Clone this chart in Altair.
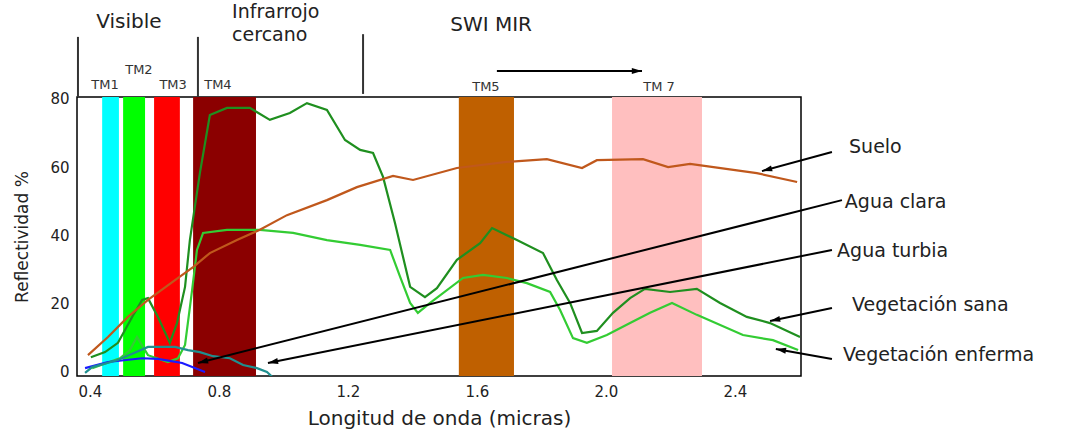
import math
import altair as alt
import pandas as pd

# ---------------- data ----------------
band_names = ["TM1", "TM2", "TM3", "TM4", "TM5", "TM7"]
band_start = [0.438, 0.503, 0.599, 0.720, 1.544, 2.019]
band_end = [0.490, 0.571, 0.679, 0.915, 1.715, 2.298]
band_colors = ["#00FFFF", "#00FF00", "#FF0000", "#8B0000", "#BF6000", "#FFBFBF"]

tm_text = ["TM1", "TM2", "TM3", "TM4", "TM5", "TM 7"]
tm_x = [0.447, 0.552, 0.658, 0.797, 1.628, 2.165]
tm_y = [84.0, 88.4, 84.0, 84.0, 83.4, 83.4]

sana_x = [0.403, 0.447, 0.487, 0.531, 0.562, 0.580, 0.611, 0.648, 0.670, 0.695, 0.710, 0.741, 0.772,
          0.825, 0.896, 0.958, 1.020, 1.073, 1.135, 1.191, 1.238, 1.278, 1.309, 1.346, 1.393, 1.439,
          1.476, 1.538, 1.610, 1.647, 1.724, 1.805, 1.848, 1.889, 1.926, 1.972, 2.022, 2.075, 2.121,
          2.199, 2.282, 2.354, 2.437, 2.509, 2.602]
sana_y = [4.3, 5.8, 8.5, 16.1, 21.1, 21.6, 16.1, 8.5, 14.3, 24.9, 38.6, 58.2, 75.2,
          77.3, 77.3, 73.8, 75.8, 78.7, 76.7, 67.9, 65.0, 64.1, 57.1, 43.6, 24.9, 21.9,
          24.5, 32.8, 37.7, 42.1, 38.6, 34.8, 26.9, 20.2, 11.4, 12.0, 17.3, 21.6, 24.3,
          23.4, 24.3, 20.2, 16.1, 14.3, 10.2]

enferma_x = [0.407, 0.493, 0.524, 0.546, 0.580, 0.642, 0.673, 0.695, 0.717, 0.732, 0.751, 0.825,
             0.927, 1.030, 1.135, 1.238, 1.331, 1.362, 1.393, 1.417, 1.455, 1.557, 1.619, 1.693,
             1.755, 1.827, 1.858, 1.898, 1.941, 2.003, 2.075, 2.137, 2.205, 2.282, 2.425, 2.518, 2.596]
enferma_y = [1.1, 4.0, 6.4, 10.2, 4.9, 2.9, 4.0, 7.9, 24.0, 35.7, 40.7, 41.6,
             41.6, 40.7, 38.6, 37.2, 35.7, 27.8, 20.2, 17.3, 20.2, 27.5, 28.4, 27.5,
             26.0, 23.4, 18.1, 9.9, 8.5, 10.8, 14.3, 17.3, 20.2, 16.7, 10.8, 9.3, 6.4]

suelo_x = [0.394, 0.456, 0.518, 0.580, 0.664, 0.720, 0.772, 0.856, 0.927, 1.011, 1.135, 1.228,
           1.340, 1.402, 1.538, 1.693, 1.817, 1.926, 1.972, 2.115, 2.193, 2.261, 2.468, 2.593]
suelo_y = [4.9, 10.2, 16.1, 21.1, 26.9, 30.7, 34.8, 38.6, 41.6, 45.9, 50.3, 54.1,
           57.4, 56.2, 59.7, 61.5, 62.3, 59.7, 62.0, 62.3, 60.0, 60.9, 58.2, 55.6]

clara_x = [0.385, 0.456, 0.562, 0.611, 0.686, 0.757]
clara_y = [1.1, 2.9, 4.0, 3.8, 2.6, 0.0]

turbia_x = [0.385, 0.407, 0.487, 0.580, 0.664, 0.704, 0.741, 0.782, 0.834, 0.875, 0.918, 0.949, 0.965]
turbia_y = [-0.3, 1.4, 3.5, 7.3, 7.3, 6.4, 5.8, 4.6, 4.0, 2.0, 1.1, 0.0, -1.4]

series_names = ["Vegetación sana", "Vegetación enferma", "Suelo", "Agua clara", "Agua turbia"]
series_colors = ["#1F8F1F", "#33CC33", "#C0581C", "#1A1AFF", "#1F8F8F"]

# annotation labels on the right
label_text = ["Suelo", "Agua clara", "Agua turbia", "Vegetación sana", "Vegetación enferma"]
label_x = [2.754, 2.741, 2.717, 2.763, 2.735]
label_y = [65.9, 49.8, 35.4, 19.6, 5.0]

# pointer arrows (start near label, end at curve)
arrow_x0 = [2.701, 2.732, 2.701, 2.701, 2.701, 1.662]
arrow_y0 = [64.4, 50.3, 35.7, 18.7, 3.8, 88.1]
arrow_x1 = [2.484, 0.735, 0.952, 2.509, 2.527, 2.112]
arrow_y1 = [58.8, 2.6, 2.6, 14.9, 6.7, 88.1]

# region headers
region_text = ["Visible", "Infrarrojo", "cercano", "SWI MIR"]
region_x = [0.521, 0.841, 0.841, 1.644]
region_y = [102.5, 105.5, 98.6, 101.6]
region_align = ["center", "left", "left", "center"]

divider_x = [0.363, 0.735, 1.247]
divider_y0 = [98.1, 98.1, 98.9]
divider_y1 = [80.5, 80.5, 81.4]

x_ticks = [0.4, 0.8, 1.2, 1.6, 2.0, 2.4]
y_ticks = [0, 20, 40, 60, 80]

# ---------------- geometry ----------------
W, H = 724, 279
XD = [0.36, 2.605]
YD = [-1.2, 80.5]
px_per_x = W / (XD[1] - XD[0])
px_per_y = H / (YD[1] - YD[0])

xs = alt.Scale(domain=XD, nice=False, zero=False)
ys = alt.Scale(domain=YD, nice=False, zero=False)

bands = pd.DataFrame({"name": band_names, "x0": band_start, "x1": band_end})
rows = []
for name, X, Y in [("Vegetación sana", sana_x, sana_y), ("Vegetación enferma", enferma_x, enferma_y),
                   ("Suelo", suelo_x, suelo_y), ("Agua clara", clara_x, clara_y),
                   ("Agua turbia", turbia_x, turbia_y)]:
    for i, (a, b) in enumerate(zip(X, Y)):
        rows.append({"serie": name, "x": a, "y": b, "i": i})
curves = pd.DataFrame(rows)

arrows = pd.DataFrame({"x0": arrow_x0, "y0": arrow_y0, "x1": arrow_x1, "y1": arrow_y1})
# direction (clockwise from "up") of each arrow in screen space, for the arrowhead symbol
arrows["angle"] = [
    (math.degrees(math.atan2((b - a) * px_per_x, (d - c) * px_per_y)) + 360) % 360
    for a, b, c, d in zip(arrow_x0, arrow_x1, arrow_y0, arrow_y1)
]

xaxis = alt.Axis(values=x_ticks, format=".1f", ticks=False, domain=False, grid=False,
                 labelFontSize=15, labelPadding=8, labelColor="#222",
                 title="Longitud de onda (micras)", titleFontSize=20, titleFontWeight="normal",
                 titlePadding=9, titleColor="#222")
yaxis = alt.Axis(values=y_ticks, ticks=False, domain=False, grid=False,
                 labelFontSize=15, labelPadding=8, labelColor="#222",
                 title="Reflectividad %", titleFontSize=17, titleFontWeight="normal",
                 titlePadding=18, titleColor="#222")

band_layer = alt.Chart(bands).mark_rect(opacity=1).encode(
    x=alt.X("x0:Q", scale=xs, axis=xaxis),
    x2="x1:Q",
    color=alt.Color("name:N", scale=alt.Scale(domain=band_names, range=band_colors), legend=None),
)

curve_layer = alt.Chart(curves).mark_line(strokeWidth=2.2, clip=True).encode(
    x=alt.X("x:Q", scale=xs),
    y=alt.Y("y:Q", scale=ys, axis=yaxis),
    color=alt.Color("serie:N", scale=alt.Scale(domain=series_names, range=series_colors), legend=None),
    detail="serie:N",
    order="i:Q",
)

arrow_lines = alt.Chart(arrows).mark_rule(color="black", strokeWidth=2).encode(
    x=alt.X("x0:Q", scale=xs), y=alt.Y("y0:Q", scale=ys), x2="x1:Q", y2="y1:Q"
)
arrow_heads = alt.Chart(arrows).mark_point(
    shape="M0,0L0.5,1.7L-0.5,1.7Z", filled=True, color="black", size=144, opacity=1
).encode(
    x=alt.X("x1:Q", scale=xs), y=alt.Y("y1:Q", scale=ys), angle=alt.Angle("angle:Q", scale=None)
)

dividers = alt.Chart(pd.DataFrame({"x": divider_x, "y0": divider_y0, "y1": divider_y1})).mark_rule(
    color="#333", strokeWidth=2
).encode(x=alt.X("x:Q", scale=xs), y=alt.Y("y0:Q", scale=ys), y2="y1:Q")

tm_labels = alt.Chart(pd.DataFrame({"t": tm_text, "x": tm_x, "y": tm_y})).mark_text(
    fontSize=13, color="#333", align="center", baseline="middle"
).encode(x=alt.X("x:Q", scale=xs), y=alt.Y("y:Q", scale=ys), text="t:N")

region_df = pd.DataFrame({"t": region_text, "x": region_x, "y": region_y, "a": region_align})
region_c = alt.Chart(region_df[region_df.a == "center"]).mark_text(
    fontSize=20, color="#222", align="center", baseline="middle"
).encode(x=alt.X("x:Q", scale=xs), y=alt.Y("y:Q", scale=ys), text="t:N")
region_l = alt.Chart(region_df[region_df.a == "left"]).mark_text(
    fontSize=19, color="#222", align="left", baseline="middle"
).encode(x=alt.X("x:Q", scale=xs), y=alt.Y("y:Q", scale=ys), text="t:N")

right_labels = alt.Chart(pd.DataFrame({"t": label_text, "x": label_x, "y": label_y})).mark_text(
    fontSize=19, color="#222", align="left", baseline="middle"
).encode(x=alt.X("x:Q", scale=xs), y=alt.Y("y:Q", scale=ys), text="t:N")

chart = alt.layer(
    band_layer, curve_layer, arrow_lines, arrow_heads, dividers, tm_labels, region_c, region_l, right_labels
).resolve_scale(color="independent").properties(
    width=W, height=H,
    padding={"left": 77, "top": 97, "right": 271, "bottom": 58},
    autosize=alt.AutoSizeParams(type="none"),
    background="white",
).configure(font="DejaVu Sans").configure_view(stroke="black", strokeWidth=1.5)

chart.save("out.html", embed_options={"renderer": "svg", "actions": False})
